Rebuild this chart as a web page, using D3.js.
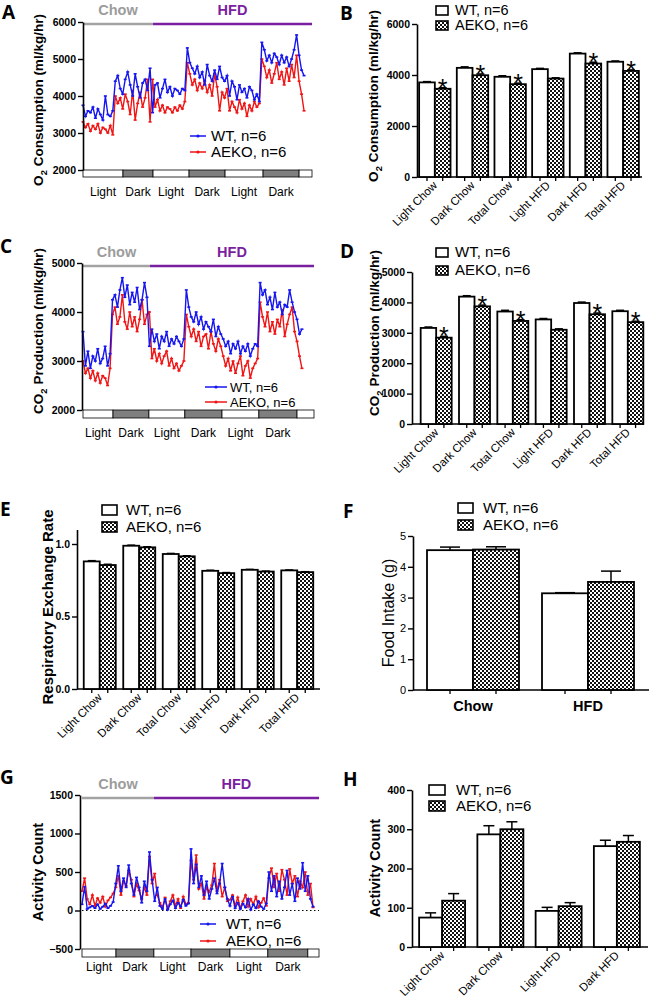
<!DOCTYPE html>
<html><head><meta charset="utf-8">
<script src="https://cdnjs.cloudflare.com/ajax/libs/d3/7.8.5/d3.min.js"></script>
<style>body{margin:0;background:#fff}svg{display:block}</style>
</head><body>
<svg id="c" width="650" height="997"></svg>
<script>
// ---------- DATA ----------
const phaseNames = ["Light","Dark","Light","Dark","Light","Dark"];
const dietNames = ["Chow","HFD"];
const groupNames = ["WT, n=6","AEKO, n=6"];

// Panel A: O2 consumption time course (ml/kg/hr)
const o2WT = [3750,3450,3600,3550,3700,3400,3650,3500,3350,4000,3500,3450,3600,
  4400,4550,4200,4050,4450,4650,4300,4000,4600,4250,3950,4350,4450,4150,4750,
  3550,4300,4350,3950,4200,4450,4100,4250,4000,4200,4150,4050,4200,4150,
  5300,4900,4750,4600,4800,4500,4650,4300,4850,4550,4400,4700,4450,4800,4500,4400,4550,
  4000,4400,4250,3900,4300,4100,4200,3950,4250,4150,3900,4050,3850,
  5450,5250,4950,5100,4900,5150,5050,4850,5100,4900,5050,4800,5000,5250,5650,5100,4700,4550];
const o2KO = [3300,3150,3250,3050,3200,3100,3250,3000,3150,3100,3000,3200,2950,
  4000,3800,3950,3650,4050,3850,3500,4150,3350,3800,4100,3700,3950,4450,3300,
  4450,3700,3900,3600,3750,3550,3700,3650,3550,3700,3600,3750,3650,3850,
  4900,4600,4300,4450,4150,4350,4200,4400,4100,4300,4000,4600,4250,3600,4100,3950,4200,
  3600,3850,3700,3550,3900,3650,3800,3450,3750,3600,3850,3700,3800,
  5000,4800,4500,4700,4350,4600,4900,4450,4650,4300,4750,4400,4850,4500,5100,4400,4050,3600];
const o2Bounds = [0,16.1,28.2,42.7,57.2,72.5,87.0,92.2];
const o2Switch = 28.2;
const o2Ticks = [2000,3000,4000,5000,6000];

// Panel C: CO2 production time course
const co2WT = [3600,2900,3200,2850,3100,3000,3250,2950,3050,3300,2900,3150,
  4250,4350,4100,4450,4700,4300,4550,4150,4400,4200,4500,4050,4250,4600,4300,
  3300,3650,3400,3550,3250,3500,3400,3600,3300,3450,3350,3500,3400,3300,3450,
  4450,4100,3900,3800,4000,3750,3900,3650,3800,3700,3600,3850,3500,3700,3550,
  3450,3300,3400,3150,3350,3250,3400,3150,3300,3200,3350,3100,3250,3350,3300,
  4600,4350,4450,4150,4300,4050,4400,4100,4200,3950,4150,4100,4450,4200,4000,3850,3550,3650];
const co2KO = [3000,2750,2850,2650,2800,2600,2750,2550,2700,2650,2500,2850,
  3950,4100,3750,3900,4350,3800,3650,4000,3700,3900,3600,3850,4250,3750,3950,
  4000,3050,3250,3000,3150,2950,3100,3200,2900,3050,2850,2950,2800,2900,3000,
  3950,3700,3500,3650,3400,3600,3300,3500,3550,3250,3600,3350,3200,3450,3300,
  3100,2900,3050,2800,3000,2750,2950,3100,2700,2900,3000,2650,2850,2950,3050,
  4200,3900,3700,4000,3600,3800,3550,3850,3700,4050,3500,3750,3950,4100,3600,3400,3100,2850];
const co2Bounds = [0,12.2,26.8,41.4,56.5,71.5,87.0,93.9];
const co2Switch = 27.2;
const co2Ticks = [2000,3000,4000,5000];

// Panel G: activity time course
const actTsWT = [80,310,20,40,60,30,80,20,50,90,30,60,110,
  350,580,250,420,300,590,350,200,430,300,100,380,250,760,400,
  120,300,60,20,150,10,80,130,30,100,50,140,60,90,
  800,350,600,300,450,200,380,150,280,420,220,350,610,300,150,
  60,180,30,100,20,90,40,150,10,80,30,120,50,20,90,
  500,250,450,180,380,150,300,520,200,350,120,420,280,620,250,450,150,50];
const actTsKO = [250,420,150,80,200,60,160,100,180,50,130,170,220,
  300,450,200,380,320,520,400,180,350,260,150,300,200,700,350,
  480,200,100,40,170,20,120,200,60,150,30,180,80,100,
  650,400,720,280,350,150,300,240,330,610,250,400,180,300,120,
  140,200,60,170,30,120,200,50,150,80,180,40,100,160,60,
  420,550,300,480,250,530,400,200,540,350,450,180,380,300,500,200,350,40];
const actBounds = [0,13.1,27.7,42.0,57.0,71.6,87.0,91.3];
const actSwitch = 27.7;
const actTicks = [-500,0,500,1000,1500];

// Bar panels
const barCats = ["Light Chow","Dark Chow","Total Chow","Light HFD","Dark HFD","Total HFD"];
const o2BarWT = [3710,4280,3930,4230,4840,4520];
const o2BarWTErr = [30,40,40,30,30,30];
const o2BarKO = [3460,3990,3640,3860,4450,4160];
const o2BarKOErr = [40,50,40,30,50,40];
const o2Sig = [true,true,true,false,true,true];
const o2BarTicks = [0,2000,4000,6000];

const co2BarWT = [3160,4190,3700,3440,3980,3710];
const co2BarWTErr = [30,30,40,30,30,30];
const co2BarKO = [2840,3870,3390,3100,3610,3350];
const co2BarKOErr = [40,40,40,30,40,30];
const co2Sig = [true,true,true,false,true,true];
const co2BarTicks = [0,1000,2000,3000,4000,5000];

const rerWT = [0.880,0.988,0.931,0.815,0.822,0.818];
const rerWTErr = [0.005,0.004,0.004,0.004,0.003,0.003];
const rerKO = [0.855,0.977,0.915,0.799,0.810,0.806];
const rerKOErr = [0.005,0.004,0.004,0.004,0.003,0.003];
const rerTicks = [0,0.5,1.0];

const foodCats = ["Chow","HFD"];
const foodWT = [4.54,3.14];
const foodWTErr = [0.10,0.02];
const foodKO = [4.56,3.51];
const foodKOErr = [0.09,0.35];
const foodTicks = [0,1,2,3,4,5];

const actCats = ["Light Chow","Dark Chow","Light HFD","Dark HFD"];
const actWT = [75,287,92,257];
const actWTErr = [12,22,9,15];
const actKO = [118,300,104,268];
const actKOErr = [18,19,9,16];
const actBarTicks = [0,100,200,300,400];

// ---------- DRAWING ----------
const svg = d3.select("#c");
const FONT = "'Liberation Sans', Arial, Helvetica, sans-serif";
const BLUE = "#1515f0", RED = "#f01515", GREY = "#a3a3a3", PURPLE = "#7a1fa0";

const defs = svg.append("defs");
const pat = defs.append("pattern").attr("id","chk").attr("width",4).attr("height",4).attr("patternUnits","userSpaceOnUse");
pat.append("rect").attr("width",4).attr("height",4).attr("fill","#fff");
pat.append("rect").attr("width",2).attr("height",2).attr("fill","#111");
pat.append("rect").attr("x",2).attr("y",2).attr("width",2).attr("height",2).attr("fill","#111");

function letter(t,x,y){
  svg.append("text").attr("x",x).attr("y",y).text(t)
    .attr("font-family","'Open Sans', 'DejaVu Sans', sans-serif").attr("font-weight","bold").attr("font-size",19).attr("fill","#000");
}

function styleAxis(sel, fs, bold){
  sel.select(".domain").attr("stroke","#000").attr("stroke-width",1.6);
  sel.selectAll(".tick line").attr("stroke","#000").attr("stroke-width",1.4);
  sel.selectAll(".tick text").attr("font-family",FONT).attr("font-size",fs)
    .attr("font-weight",bold?"bold":"normal").attr("fill","#000");
}

function yTitle(x, cy, parts, fs, weight){
  const t = svg.append("text").attr("transform",`translate(${x},${cy}) rotate(-90)`)
    .attr("text-anchor","middle").attr("font-family",FONT).attr("font-size",fs)
    .attr("font-weight",weight).attr("fill","#000");
  parts.forEach(p=>{
    if(p.sub){
      t.append("tspan").attr("dy",fs*0.28).attr("font-size",fs*0.7).text(p.t);
    } else {
      t.append("tspan").attr("dy",p.after? -fs*0.28 : 0).text(p.t);
    }
  });
}

function timeSeries(o){
  const x = d3.scaleLinear().domain([0,o.xMax]).range([o.x0,o.x1]);
  const y = d3.scaleLinear().domain(o.yDomain).range([o.yBottom,o.yTop]);
  const g = svg.append("g");
  // diet bars
  g.append("line").attr("x1",x(0)).attr("x2",x(o.switchAt)).attr("y1",o.dietY).attr("y2",o.dietY)
    .attr("stroke",GREY).attr("stroke-width",2.5);
  g.append("line").attr("x1",x(o.switchAt)).attr("x2",x(o.xMax)).attr("y1",o.dietY).attr("y2",o.dietY)
    .attr("stroke",PURPLE).attr("stroke-width",2.5);
  g.append("text").attr("x",(x(0)+x(o.switchAt))/2).attr("y",o.dietTextY).text(dietNames[0])
    .attr("text-anchor","middle").attr("font-family",FONT).attr("font-weight","bold").attr("font-size",14.5).attr("fill","#9c9c9c");
  g.append("text").attr("x",(x(o.switchAt)+x(o.xMax))/2).attr("y",o.dietTextY).text(dietNames[1])
    .attr("text-anchor","middle").attr("font-family",FONT).attr("font-weight","bold").attr("font-size",14.5).attr("fill",PURPLE);
  // light/dark bar
  for(let i=0;i<o.bounds.length-1;i++){
    g.append("rect").attr("x",x(o.bounds[i])).attr("y",o.yBottom)
      .attr("width",x(o.bounds[i+1])-x(o.bounds[i])).attr("height",o.barH)
      .attr("fill", i%2 ? "#7f7f7f" : "#fff").attr("stroke","#000").attr("stroke-width",0.8);
  }
  phaseNames.forEach((p,i)=>{
    g.append("text").attr("x",(x(o.bounds[i])+x(o.bounds[i+1]))/2).attr("y",o.phaseY).text(p)
      .attr("text-anchor","middle").attr("font-family",FONT).attr("font-size",12).attr("fill","#000");
  });
  if(o.zeroLine){
    g.append("line").attr("x1",x(0)).attr("x2",x(o.xMax)).attr("y1",y(0)).attr("y2",y(0))
      .attr("stroke","#000").attr("stroke-width",1.2).attr("stroke-dasharray","1.5,2.5");
  }
  const line = d3.line().x((d,i)=>x(i)).y(d=>y(d));
  [[o.ko,RED],[o.wt,BLUE]].forEach(([data,col])=>{
    g.append("path").datum(data).attr("d",line).attr("fill","none").attr("stroke",col).attr("stroke-width",1.4);
    g.selectAll(null).data(data).enter().append("rect")
      .attr("x",(d,i)=>x(i)-1.5).attr("y",d=>y(d)-0.8).attr("width",3).attr("height",1.6).attr("fill",col);
  });
  const ax = g.append("g").attr("transform",`translate(${o.axisX},0)`)
    .call(d3.axisLeft(y).tickValues(o.ticks).tickSize(5).tickSizeOuter(0).tickPadding(2).tickFormat(d3.format("d")));
  styleAxis(ax,10.5,true);
  // legend
  [[BLUE,0],[RED,1]].forEach(([col,i])=>{
    const ly = o.legY[i];
    g.append("line").attr("x1",o.legX).attr("x2",o.legX+o.legW).attr("y1",ly).attr("y2",ly).attr("stroke",col).attr("stroke-width",1.5);
    g.append("circle").attr("cx",o.legX+o.legW/2).attr("cy",ly).attr("r",1.6).attr("fill",col);
    g.append("text").attr("x",o.legTextX).attr("y",ly+o.legFs*0.35).text(groupNames[i])
      .attr("font-family",FONT).attr("font-size",o.legFs).attr("fill","#000");
  });
}

function barChart(o){
  const x = d3.scaleBand().domain(o.cats).range([o.x0,o.x1]);
  const y = d3.scaleLinear().domain(o.yDomain).range([o.yBottom,o.yTop]);
  const g = svg.append("g");
  const half = x.bandwidth()/2;
  g.append("line").attr("x1",o.axisX).attr("x2",o.xEnd).attr("y1",o.yBottom).attr("y2",o.yBottom)
    .attr("stroke","#000").attr("stroke-width",1.6);
  o.cats.forEach((c,i)=>{
    const cx = x(c)+half;
    const ser = [
      {v:o.wt[i], e:o.wtErr[i], left:cx-o.barW, fill:"#fff"},
      {v:o.ko[i], e:o.koErr[i], left:cx, fill:"url(#chk)"}
    ];
    ser.forEach(s=>{
      const bc = s.left + o.barW/2;
      g.append("line").attr("x1",bc).attr("x2",bc).attr("y1",y(s.v)).attr("y2",y(s.v+s.e))
        .attr("stroke","#000").attr("stroke-width",1.5);
      g.append("line").attr("x1",bc-o.capW/2).attr("x2",bc+o.capW/2).attr("y1",y(s.v+s.e)).attr("y2",y(s.v+s.e))
        .attr("stroke","#000").attr("stroke-width",1.5);
      g.append("rect").attr("x",s.left).attr("y",y(s.v)).attr("width",o.barW).attr("height",y(0)-y(s.v))
        .attr("fill",s.fill).attr("stroke","#000").attr("stroke-width",1.8);
      g.append("line").attr("x1",bc).attr("x2",bc).attr("y1",o.yBottom).attr("y2",o.yBottom+4)
        .attr("stroke","#000").attr("stroke-width",1.3);
    });
    if(o.sig && o.sig[i]){
      g.append("text").attr("x",cx+o.barW/2).attr("y",y(o.ko[i]+o.koErr[i])+9).text("*")
        .attr("text-anchor","middle").attr("font-family",FONT).attr("font-size",25).attr("fill","#000");
    }
    if(o.rotate){
      g.append("text").attr("transform",`translate(${cx+3},${o.yBottom+9}) rotate(-45)`).text(c)
        .attr("text-anchor","end").attr("font-family",FONT).attr("font-size",11.5).attr("fill","#000");
    } else {
      g.append("text").attr("x",cx).attr("y",o.yBottom+21).text(c)
        .attr("text-anchor","middle").attr("font-family",FONT).attr("font-weight","bold").attr("font-size",14.5).attr("fill","#000");
    }
  });
  const ax = g.append("g").attr("transform",`translate(${o.axisX},0)`)
    .call(d3.axisLeft(y).tickValues(o.ticks).tickSize(5).tickSizeOuter(0).tickPadding(2).tickFormat(o.fmt));
  styleAxis(ax,o.tickFs,o.tickBold);
  // legend
  [["#fff",0],["url(#chk)",1]].forEach(([f,i])=>{
    g.append("rect").attr("x",o.legX).attr("y",o.legY[i]).attr("width",o.legW).attr("height",o.legH)
      .attr("fill",f).attr("stroke","#000").attr("stroke-width",1.6);
    g.append("text").attr("x",o.legTextX).attr("y",o.legY[i]+o.legH).text(groupNames[i])
      .attr("font-family",FONT).attr("font-size",o.legFs || 15).attr("fill","#000");
  });
}

// Panel A
letter("A",2,19);
timeSeries({wt:o2WT, ko:o2KO, xMax:92.2, x0:83, x1:312, axisX:83, yDomain:[2000,6000], yBottom:170, yTop:22,
  ticks:o2Ticks, dietY:24, dietTextY:15, switchAt:o2Switch, bounds:o2Bounds, barH:7, phaseY:196,
  legX:190, legW:16, legTextX:211, legY:[136,152], legFs:15});
yTitle(43,100,[{t:"O"},{t:"2",sub:true},{t:" Consumption (ml/kg/hr)",after:true}],13.5,"bold");

// Panel C
letter("C",0,253);
timeSeries({wt:co2WT, ko:co2KO, xMax:93.9, x0:83, x1:314, axisX:82, yDomain:[2000,5000], yBottom:410, yTop:263,
  ticks:co2Ticks, dietY:266, dietTextY:257, switchAt:co2Switch, bounds:co2Bounds, barH:8, phaseY:437,
  legX:205, legW:22, legTextX:230, legY:[387,402], legFs:13});
yTitle(43,331,[{t:"CO"},{t:"2",sub:true},{t:" Production (ml/kg/hr)",after:true}],13.5,"bold");

// Panel G
letter("G",0,784);
timeSeries({wt:actTsWT, ko:actTsKO, xMax:91.3, x0:82, x1:319, axisX:80, yDomain:[-500,1500], yBottom:949, yTop:795,
  ticks:actTicks, dietY:798, dietTextY:789, switchAt:actSwitch, bounds:actBounds, barH:8, phaseY:971, zeroLine:true,
  legX:200, legW:16, legTextX:226, legY:[924,941], legFs:15});
yTitle(43,872,[{t:"Activity Count"}],14.5,"bold");

// Panel B
letter("B",340,20);
barChart({cats:barCats, wt:o2BarWT, wtErr:o2BarWTErr, ko:o2BarKO, koErr:o2BarKOErr, sig:o2Sig,
  x0:416, x1:642, axisX:417, xEnd:642, yDomain:[0,6000], yBottom:177, yTop:24, ticks:o2BarTicks, fmt:d3.format("d"),
  tickFs:10.5, tickBold:true, barW:15.7, capW:8, rotate:true,
  legX:436, legY:[6,21], legW:12, legH:9, legTextX:455, legFs:14.5});
yTitle(378,96,[{t:"O"},{t:"2",sub:true},{t:" Consumption (ml/kg/hr)",after:true}],13.5,"bold");

// Panel D
letter("D",340,258);
barChart({cats:barCats, wt:co2BarWT, wtErr:co2BarWTErr, ko:co2BarKO, koErr:co2BarKOErr, sig:co2Sig,
  x0:417, x1:647, axisX:412, xEnd:644, yDomain:[0,5000], yBottom:424, yTop:272, ticks:co2BarTicks, fmt:d3.format("d"),
  tickFs:10.5, tickBold:true, barW:15.5, capW:8, rotate:true,
  legX:436, legY:[248,266], legW:12, legH:9, legTextX:455});
yTitle(379,333,[{t:"CO"},{t:"2",sub:true},{t:" Production (ml/kg/hr)",after:true}],13.5,"bold");

// Panel E
letter("E",0,516);
barChart({cats:barCats, wt:rerWT, wtErr:rerWTErr, ko:rerKO, koErr:rerKOErr, sig:null,
  x0:80, x1:317, axisX:77, xEnd:320, yDomain:[0,1.1], yBottom:689, yTop:529.5, ticks:rerTicks, fmt:d3.format(".1f"),
  tickFs:10.5, tickBold:true, barW:16, capW:8, rotate:true,
  legX:102, legY:[505,522], legW:15, legH:10, legTextX:126});
yTitle(53,607,[{t:"Respiratory Exchange Rate"}],15,"bold");

// Panel F
letter("F",343,518);
barChart({cats:foodCats, wt:foodWT, wtErr:foodWTErr, ko:foodKO, koErr:foodKOErr, sig:null,
  x0:415.5, x1:645.5, axisX:413, xEnd:649, yDomain:[0,5], yBottom:690, yTop:536, ticks:foodTicks, fmt:d3.format("d"),
  tickFs:11, tickBold:false, barW:46, capW:20, rotate:false,
  legX:458, legY:[503,520], legW:15, legH:10, legTextX:483});
yTitle(394,613,[{t:"Food Intake (g)"}],16,"normal");

// Panel H
letter("H",343,786);
barChart({cats:actCats, wt:actWT, wtErr:actWTErr, ko:actKO, koErr:actKOErr, sig:null,
  x0:413, x1:646, axisX:412, xEnd:648, yDomain:[0,400], yBottom:947, yTop:790, ticks:actBarTicks, fmt:d3.format("d"),
  tickFs:10.5, tickBold:true, barW:23, capW:11, rotate:true,
  legX:429, legY:[785,801], legW:16, legH:10, legTextX:456});
yTitle(380,868,[{t:"Activity Count"}],14.5,"bold");
</script>
</body></html>
